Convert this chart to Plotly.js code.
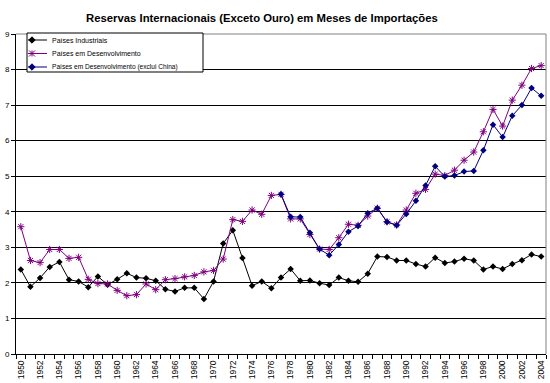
<!DOCTYPE html>
<html>
<head>
<meta charset="utf-8">
<script src="https://cdn.plot.ly/plotly-3.0.1.min.js"></script>
<style>html,body{margin:0;padding:0;background:#fff;}#chart{width:550px;height:383px;}</style>
</head>
<body>
<div id="chart"></div>
<script>
const years = [1950,1951,1952,1953,1954,1955,1956,1957,1958,1959,1960,1961,1962,1963,1964,1965,1966,1967,1968,1969,1970,1971,1972,1973,1974,1975,1976,1977,1978,1979,1980,1981,1982,1983,1984,1985,1986,1987,1988,1989,1990,1991,1992,1993,1994,1995,1996,1997,1998,1999,2000,2001,2002,2003,2004];
const industriais = [2.38,1.89,2.14,2.45,2.59,2.09,2.04,1.88,2.18,1.95,2.10,2.27,2.15,2.13,2.06,1.82,1.76,1.86,1.86,1.55,2.04,3.11,3.48,2.70,1.92,2.04,1.85,2.15,2.39,2.06,2.07,1.99,1.94,2.15,2.06,2.03,2.26,2.74,2.73,2.63,2.63,2.53,2.46,2.71,2.56,2.60,2.68,2.63,2.38,2.46,2.39,2.53,2.64,2.80,2.74];
const desenvolvimento = [3.58,2.63,2.57,2.94,2.94,2.69,2.72,2.10,1.98,1.97,1.79,1.64,1.67,1.97,1.81,2.09,2.12,2.17,2.21,2.31,2.35,2.67,3.78,3.73,4.05,3.93,4.46,4.49,3.80,3.80,3.36,2.95,2.94,3.27,3.65,3.62,3.88,4.10,3.72,3.63,4.05,4.52,4.63,5.06,5.02,5.17,5.45,5.68,6.25,6.88,6.41,7.14,7.56,8.03,8.11];
const exclChina = [null,null,null,null,null,null,null,null,null,null,null,null,null,null,null,null,null,null,null,null,null,null,null,null,null,null,null,4.49,3.86,3.85,3.41,2.95,2.78,3.08,3.44,3.60,3.96,4.10,3.71,3.62,3.94,4.31,4.74,5.28,4.99,5.02,5.13,5.15,5.73,6.45,6.10,6.70,7.00,7.48,7.26];
const seriesNames = ["Países Industriais","Países em Desenvolvimento","Países em Desenvolvimento (exclui China)"];
const seriesColors = ["#000000", "#800080", "#000080"];
const tickYears = years.filter(y => y % 2 === 0);
const tickLabels = tickYears.map(String);

const FONT = "'Liberation Sans', Arial, sans-serif";
const traces = [
  {x: years, y: industriais, name: seriesNames[0], type: 'scatter', mode: 'lines+markers',
   line: {color: seriesColors[0], width: 1}, marker: {symbol: 'diamond', size: 5, color: seriesColors[0]}},
  {x: years, y: desenvolvimento, name: seriesNames[1], type: 'scatter', mode: 'lines+markers',
   line: {color: seriesColors[1], width: 1}, marker: {symbol: 'asterisk-open', size: 6, color: seriesColors[1], line: {width: 1, color: seriesColors[1]}}},
  {x: years, y: exclChina, name: seriesNames[2], type: 'scatter', mode: 'lines+markers',
   line: {color: seriesColors[2], width: 1}, marker: {symbol: 'diamond', size: 5, color: seriesColors[2]}}
];

// Custom compact legend (box, key lines, key markers, labels), in pixels from the plot's top-left corner
function px() { return {xref: 'paper', yref: 'paper', xsizemode: 'pixel', ysizemode: 'pixel', xanchor: 0, yanchor: 1}; }
const legendShapes = [];
const legendAnnotations = [];
legendShapes.push(Object.assign(px(), {type: 'rect', x0: 11, x1: 187, y0: 1, y1: -38, fillcolor: '#ffffff', line: {color: '#000000', width: 1}, layer: 'above'}));
const rowY = [-6, -19.5, -33];
seriesNames.forEach((name, i) => {
  const cy = rowY[i], cx = 16;
  legendShapes.push(Object.assign(px(), {type: 'line', x0: 12, x1: 31, y0: cy, y1: cy, line: {color: seriesColors[i], width: 1}, layer: 'above'}));
  if (i === 1) {
    const r = 3;
    legendShapes.push(Object.assign(px(), {type: 'path', path: `M${cx-r},${cy-r}L${cx+r},${cy+r}M${cx-r},${cy+r}L${cx+r},${cy-r}M${cx},${cy-r}L${cx},${cy+r}M${cx-r},${cy}L${cx+r},${cy}`, line: {color: seriesColors[i], width: 1}, layer: 'above'}));
  } else {
    const r = 3.2;
    legendShapes.push(Object.assign(px(), {type: 'path', path: `M${cx-r},${cy}L${cx},${cy+r}L${cx+r},${cy}L${cx},${cy-r}Z`, fillcolor: seriesColors[i], line: {color: seriesColors[i], width: 1}, layer: 'above'}));
  }
  legendAnnotations.push({xref: 'paper', yref: 'paper', x: 0, y: 1, xshift: 34, yshift: cy, xanchor: 'left', yanchor: 'middle',
    text: name, showarrow: false, font: {family: FONT, size: i === 2 ? 6.6 : 7, color: '#000000'}});
});

const layout = {
  width: 550, height: 383,
  margin: {l: 16, r: 4, t: 34, b: 29, pad: 0},
  paper_bgcolor: '#ffffff', plot_bgcolor: '#ffffff',
  font: {family: FONT, size: 8, color: '#000000'},
  title: {text: 'Reservas Internacionais (Exceto Ouro) em Meses de Importações',
          font: {family: FONT, size: 11.3, color: '#000000', weight: 'bold'},
          x: 0.464, xanchor: 'center', y: 0.954, yanchor: 'middle', xref: 'paper', yref: 'container'},
  xaxis: {
    type: 'linear', range: [1949.5, 2004.5], fixedrange: true,
    tickmode: 'array', tickvals: tickYears, ticktext: tickLabels,
    tickangle: -90, ticks: '', tickfont: {size: 8.5, family: FONT}, ticklabelstandoff: 2,
    showgrid: false, zeroline: false, showline: true, linecolor: '#000000', linewidth: 1,
    minor: {tickmode: 'linear', tick0: 1949.5, dtick: 1, ticks: 'outside', ticklen: 4, tickcolor: '#000000', showgrid: false}
  },
  yaxis: {
    range: [0, 9], dtick: 1, tick0: 0, fixedrange: true,
    ticks: 'outside', ticklen: 4, tickcolor: '#000000', tickfont: {size: 8, family: FONT},
    showgrid: true, gridcolor: '#000000', gridwidth: 1,
    zeroline: false, showline: true, linecolor: '#000000', linewidth: 1
  },
  showlegend: false,
  annotations: legendAnnotations,
  shapes: [
    {type: 'line', xref: 'paper', yref: 'paper', x0: 0, x1: 1, y0: 1, y1: 1, line: {color: '#808080', width: 1}},
    {type: 'line', xref: 'paper', yref: 'paper', x0: 1, x1: 1, y0: 0, y1: 1, line: {color: '#808080', width: 1}}
  ].concat(legendShapes)
};

Plotly.newPlot('chart', traces, layout, {displayModeBar: false, staticPlot: true});
</script>
</body>
</html>
